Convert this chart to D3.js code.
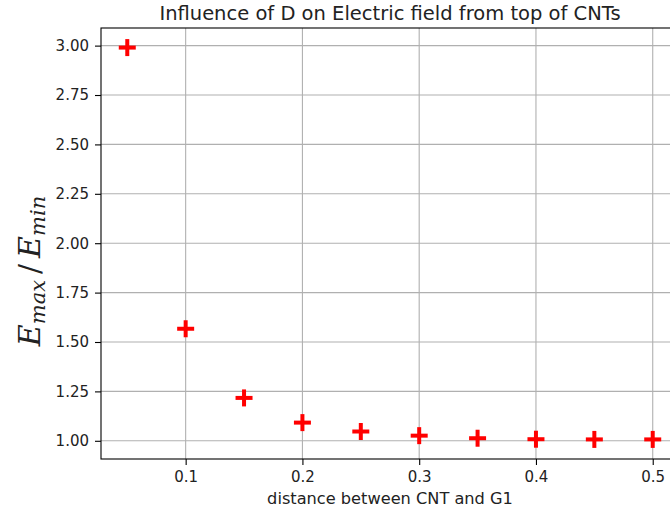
<!DOCTYPE html>
<html>
<head>
<meta charset="utf-8">
<script src="https://cdn.jsdelivr.net/npm/d3@7"></script>
<style>
  body { margin: 0; background: #fff; }
  svg { display: block; font-family: "DejaVu Sans", sans-serif; }
</style>
</head>
<body>
<svg id="chart" width="670" height="513"></svg>
<script>
// Ratio of maximum to minimum field versus CNT–G1 spacing
const distances = [0.05, 0.10, 0.15, 0.20, 0.25, 0.30, 0.35, 0.40, 0.45, 0.50];
const ratios    = [2.99, 1.567, 1.217, 1.092, 1.047, 1.026, 1.013, 1.008, 1.007, 1.007];
const xTicks = [0.1, 0.2, 0.3, 0.4, 0.5];
const yTicks = [1.00, 1.25, 1.50, 1.75, 2.00, 2.25, 2.50, 2.75, 3.00];

(function () {
const svg = d3.select("#chart");
const plotL = 101, plotR = 679, plotT = 28, plotB = 459;

// 5% padding around the data range on both axes
const xPad = (d3.max(distances) - d3.min(distances)) * 0.05;
const yPad = (d3.max(ratios) - d3.min(ratios)) * 0.05;
const x = d3.scaleLinear()
  .domain([d3.min(distances) - xPad, d3.max(distances) + xPad])
  .range([plotL, plotR]);
const y = d3.scaleLinear()
  .domain([d3.min(ratios) - yPad, d3.max(ratios) + yPad])
  .range([plotB, plotT]);

// grid
svg.append("g").selectAll("line").data(xTicks).join("line")
  .attr("x1", d => x(d)).attr("x2", d => x(d))
  .attr("y1", plotT).attr("y2", plotB)
  .attr("stroke", "#b0b0b0").attr("stroke-width", 1.1);
svg.append("g").selectAll("line").data(yTicks).join("line")
  .attr("x1", plotL).attr("x2", plotR)
  .attr("y1", d => y(d)).attr("y2", d => y(d))
  .attr("stroke", "#b0b0b0").attr("stroke-width", 1.1);

// axes
const xAxis = d3.axisBottom(x).tickValues(xTicks).tickFormat(d3.format(".1f"))
  .tickSize(6).tickPadding(6);
const yAxis = d3.axisLeft(y).tickValues(yTicks).tickFormat(d3.format(".2f"))
  .tickSize(6).tickPadding(6);

const gx = svg.append("g").attr("transform", `translate(0,${plotB})`).call(xAxis);
const gy = svg.append("g").attr("transform", `translate(${plotL},0)`).call(yAxis);
[gx, gy].forEach(g => {
  g.select(".domain").remove();
  g.selectAll(".tick line").attr("stroke", "#000").attr("stroke-width", 1.1);
  g.selectAll(".tick text").attr("font-size", 15).attr("fill", "#222")
    .attr("font-family", "DejaVu Sans");
});

// frame
svg.append("rect")
  .attr("x", plotL).attr("y", plotT)
  .attr("width", plotR - plotL).attr("height", plotB - plotT)
  .attr("fill", "none").attr("stroke", "#000").attr("stroke-width", 1.1);

// plus markers
const arm = 8.5;
const pts = svg.append("g").selectAll("g").data(distances).join("g")
  .attr("transform", (d, i) => `translate(${x(d)},${y(ratios[i])})`);
pts.append("line").attr("x1", -arm).attr("x2", arm).attr("y1", 0).attr("y2", 0)
  .attr("stroke", "#ff0000").attr("stroke-width", 4);
pts.append("line").attr("x1", 0).attr("x2", 0).attr("y1", -arm).attr("y2", arm)
  .attr("stroke", "#ff0000").attr("stroke-width", 4);

// title
svg.append("text")
  .attr("x", (plotL + plotR) / 2).attr("y", 19.5)
  .attr("text-anchor", "middle").attr("font-size", 19.5).attr("fill", "#222")
  .text("Influence of D on Electric field from top of CNTs");

// x label
svg.append("text")
  .attr("x", (plotL + plotR) / 2).attr("y", 504)
  .attr("text-anchor", "middle").attr("font-size", 16.2).attr("fill", "#222")
  .text("distance between CNT and G1");

// y label: E_max / E_min
const yl = svg.append("text")
  .attr("transform", `translate(40,271) rotate(-90)`)
  .attr("text-anchor", "middle")
  .attr("font-family", "DejaVu Serif").attr("font-style", "italic")
  .attr("font-size", 30).attr("fill", "#222");
yl.append("tspan").text("E");
yl.append("tspan").attr("font-size", 21).attr("dy", 5).text("max");
yl.append("tspan").attr("dy", -5).attr("font-style", "normal").text("\u2009/\u2009");
yl.append("tspan").text("E");
yl.append("tspan").attr("font-size", 21).attr("dy", 5).text("min");
})();
</script>
</body>
</html>
